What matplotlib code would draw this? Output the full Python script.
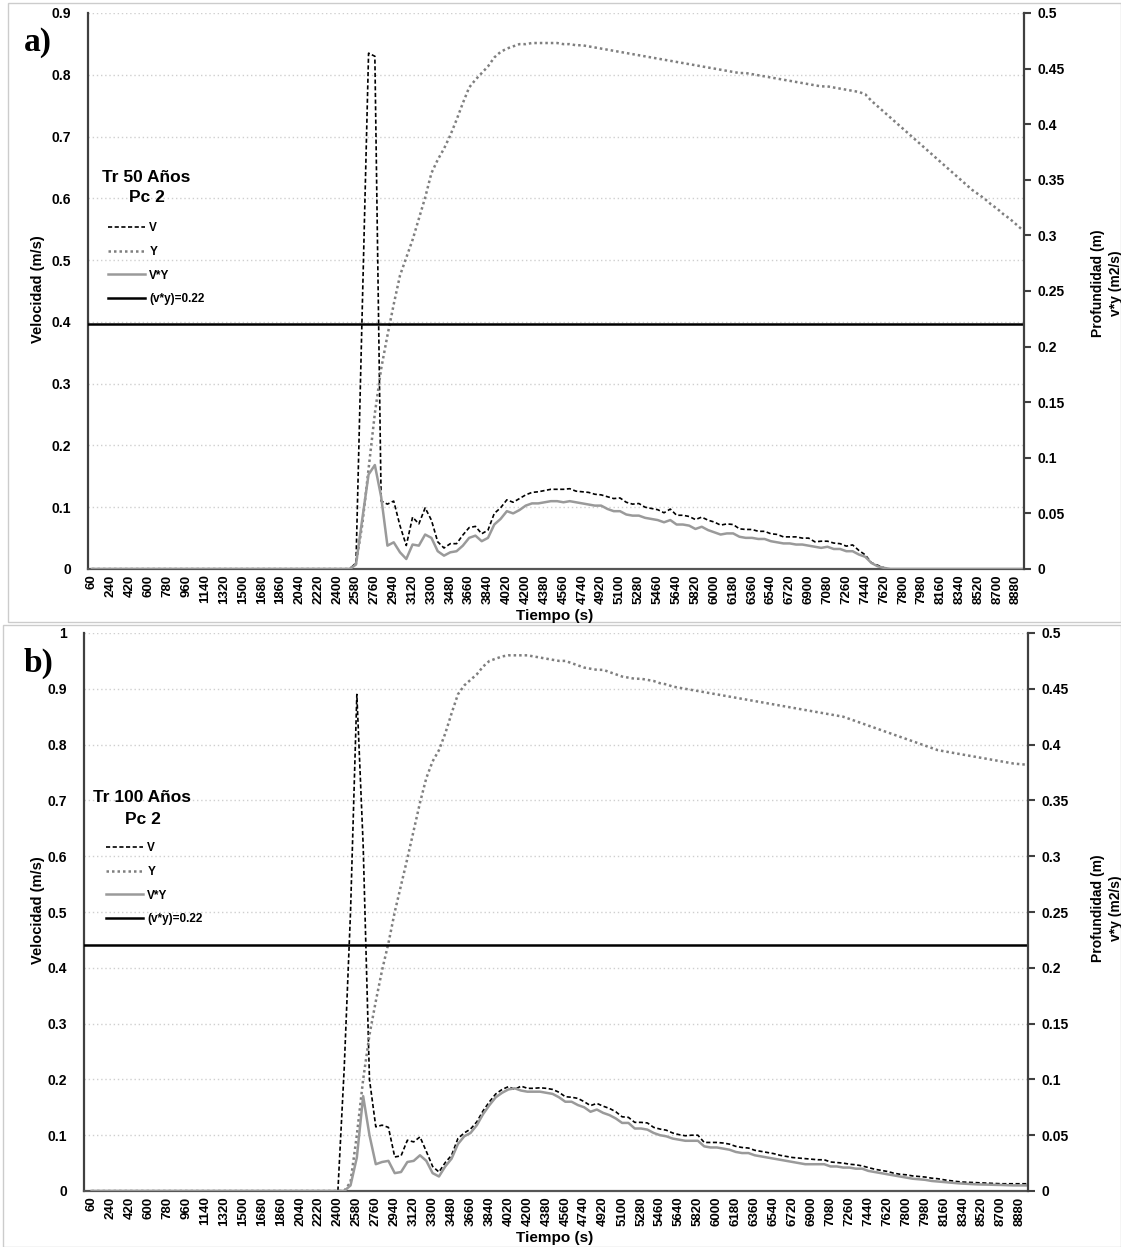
import matplotlib
matplotlib.use("Agg")
import matplotlib.pyplot as plt
from matplotlib.lines import Line2D
from matplotlib.patches import Rectangle
from matplotlib.ticker import MultipleLocator, FuncFormatter

plt.rcParams['font.family'] = ['Liberation Sans', 'DejaVu Sans']
plt.rcParams['font.weight'] = 'bold'

# eje de tiempo (s), un dato cada 60 s
tiempo = list(range(60, 8941, 60))
tick_tiempo = list(range(60, 8881, 180))

# ---- a) Tr 50 años : ceros hasta 2520 s, datos desde 2580 s
v_a = [0.0] * 42 + [
    0.01, 0.42, 0.835, 0.83, 0.11, 0.105, 0.11, 0.07, 0.038, 0.084,
    0.073, 0.099, 0.079, 0.044, 0.034, 0.041, 0.041, 0.055, 0.067, 0.069,
    0.057, 0.063, 0.09, 0.099, 0.112, 0.108, 0.114, 0.12, 0.124, 0.125,
    0.127, 0.129, 0.129, 0.129, 0.13, 0.126, 0.125, 0.124, 0.121, 0.12,
    0.117, 0.114, 0.115, 0.108, 0.105, 0.106, 0.10, 0.098, 0.096, 0.091,
    0.097, 0.087, 0.087, 0.085, 0.08, 0.084, 0.079, 0.076, 0.071, 0.073,
    0.072, 0.065, 0.064, 0.064, 0.061, 0.061, 0.057, 0.056, 0.052, 0.052,
    0.052, 0.05, 0.05, 0.044, 0.045, 0.045, 0.042, 0.041, 0.037, 0.039,
    0.03, 0.023, 0.01, 0.006, 0.002] + [0.0] * 22
vy_a = [0.0] * 42 + [
    0.004, 0.045, 0.085, 0.0935, 0.065, 0.021, 0.024, 0.015, 0.009, 0.022,
    0.021, 0.031, 0.028, 0.016, 0.012, 0.015, 0.016, 0.021, 0.028, 0.03,
    0.025, 0.028, 0.04, 0.045, 0.052, 0.05, 0.053, 0.057, 0.059, 0.059,
    0.06, 0.061, 0.061, 0.06, 0.061, 0.06, 0.059, 0.058, 0.057, 0.057,
    0.054, 0.052, 0.052, 0.049, 0.048, 0.048, 0.046, 0.045, 0.044, 0.042,
    0.044, 0.04, 0.04, 0.039, 0.036, 0.038, 0.035, 0.033, 0.031, 0.032,
    0.032, 0.029, 0.028, 0.028, 0.027, 0.027, 0.025, 0.024, 0.023, 0.023,
    0.022, 0.022, 0.021, 0.02, 0.019, 0.02, 0.018, 0.018, 0.016, 0.016,
    0.013, 0.011, 0.0054, 0.0024, 0.001] + [0.0] * 22
y_a = [0.0] * 42 + [
    0.005, 0.04, 0.09, 0.14, 0.18, 0.21, 0.238, 0.264, 0.28, 0.296,
    0.315, 0.334, 0.356, 0.368, 0.378, 0.39, 0.404, 0.419, 0.433, 0.44,
    0.446, 0.452, 0.46, 0.465, 0.468, 0.47, 0.472, 0.472, 0.473, 0.473,
    0.473, 0.473, 0.473, 0.472, 0.472, 0.471, 0.471, 0.47, 0.469, 0.468,
    0.467, 0.466, 0.465, 0.464, 0.463, 0.462, 0.461, 0.46, 0.459, 0.458,
    0.457, 0.456, 0.455, 0.454, 0.453, 0.452, 0.451, 0.45, 0.449, 0.448,
    0.447, 0.446, 0.446, 0.445, 0.444, 0.443, 0.442, 0.441, 0.44, 0.439,
    0.438, 0.437, 0.436, 0.435, 0.434, 0.434, 0.433, 0.432, 0.431, 0.430,
    0.429, 0.427, 0.421, 0.416, 0.411, 0.406, 0.401, 0.396, 0.391, 0.386,
    0.381, 0.376, 0.371, 0.366, 0.361, 0.356, 0.351, 0.346, 0.341, 0.337,
    0.333, 0.328, 0.324, 0.319, 0.315, 0.31, 0.305]

# ---- b) Tr 100 años : ceros hasta 2400 s, datos desde 2460 s
v_b = [0.0] * 40 + [
    0.22, 0.5, 0.89, 0.62, 0.2, 0.115, 0.118, 0.114, 0.061, 0.063,
    0.091, 0.088, 0.097, 0.071, 0.044, 0.034, 0.051, 0.064, 0.094, 0.104,
    0.111, 0.124, 0.144, 0.16, 0.174, 0.182, 0.187, 0.182, 0.188, 0.184,
    0.184, 0.185, 0.184, 0.182, 0.177, 0.169, 0.168, 0.166, 0.16, 0.153,
    0.157, 0.152, 0.148, 0.142, 0.133, 0.132, 0.123, 0.123, 0.122, 0.114,
    0.111, 0.109, 0.104, 0.101, 0.099, 0.1, 0.1, 0.087, 0.087, 0.087,
    0.086, 0.084, 0.08, 0.078, 0.077, 0.073, 0.071, 0.069, 0.067, 0.064,
    0.062, 0.06, 0.059, 0.058, 0.057, 0.056, 0.056, 0.052, 0.051, 0.05,
    0.048, 0.047, 0.045, 0.042, 0.039, 0.037, 0.035, 0.032, 0.03, 0.029,
    0.027, 0.026, 0.025, 0.023, 0.022, 0.02, 0.0185, 0.017, 0.016, 0.0155,
    0.015, 0.0145, 0.014, 0.0135, 0.013, 0.013, 0.013, 0.013, 0.013]
vy_b = [0.0] * 40 + [
    0.0, 0.005, 0.03, 0.085, 0.05, 0.024, 0.026, 0.027, 0.016, 0.017,
    0.026, 0.027, 0.032, 0.027, 0.016, 0.013, 0.022, 0.029, 0.042, 0.049,
    0.052, 0.059, 0.069, 0.077, 0.084, 0.088, 0.091, 0.092, 0.09, 0.089,
    0.089, 0.089, 0.088, 0.087, 0.084, 0.08, 0.08, 0.077, 0.075, 0.071,
    0.073, 0.07, 0.068, 0.065, 0.061, 0.061, 0.056, 0.056, 0.055, 0.052,
    0.05, 0.049, 0.047, 0.046, 0.045, 0.045, 0.045, 0.04, 0.039, 0.039,
    0.038, 0.037, 0.035, 0.034, 0.034, 0.032, 0.031, 0.03, 0.029, 0.028,
    0.027, 0.026, 0.025, 0.024, 0.024, 0.024, 0.024, 0.022, 0.022, 0.021,
    0.021, 0.02, 0.02, 0.018, 0.017, 0.016, 0.015, 0.014, 0.013, 0.012,
    0.011, 0.0105, 0.01, 0.009, 0.0085, 0.008, 0.0075, 0.007, 0.0066, 0.0063,
    0.006, 0.0058, 0.0057, 0.0055, 0.0054, 0.0052, 0.005, 0.005, 0.005]
y_b = [0.0] * 40 + [
    0.0, 0.008, 0.05, 0.1, 0.14, 0.17, 0.198, 0.222, 0.25, 0.274,
    0.298, 0.323, 0.348, 0.37, 0.385, 0.395, 0.41, 0.428, 0.445, 0.453,
    0.458, 0.463, 0.47, 0.475, 0.477, 0.479, 0.48, 0.48, 0.48, 0.48,
    0.479, 0.478, 0.477, 0.476, 0.475, 0.475, 0.473, 0.471, 0.469, 0.468,
    0.467, 0.467, 0.465, 0.463, 0.461, 0.46, 0.459, 0.459, 0.458, 0.457,
    0.455, 0.454, 0.452, 0.451, 0.45, 0.449, 0.448, 0.447, 0.446, 0.445,
    0.444, 0.443, 0.442, 0.441, 0.44, 0.439, 0.438, 0.437, 0.436, 0.435,
    0.434, 0.433, 0.432, 0.431, 0.43, 0.429, 0.428, 0.427, 0.426, 0.425,
    0.423, 0.421, 0.419, 0.417, 0.415, 0.413, 0.411, 0.409, 0.407, 0.405,
    0.403, 0.401, 0.399, 0.397, 0.395, 0.394, 0.393, 0.392, 0.391, 0.39,
    0.389, 0.388, 0.387, 0.386, 0.385, 0.384, 0.383, 0.3825, 0.382]

umbral = 0.22

W, H = 1121, 1247
fig = plt.figure(figsize=(W / 100, H / 100), dpi=100)

# estilos de linea
st_v = dict(color='black', lw=1.2, linestyle=(0, (2.5, 1.5)))
st_y = dict(color='#7f7f7f', lw=1.8, linestyle=(0, (1, 1.2)))
st_vy = dict(color='#9a9a9a', lw=1.8)
st_u = dict(color='black', lw=1.8)


def fmt(val, pos):
    return '%g' % round(val, 3)


def panel(px, xlim, letra, ymax, v, y, vy, titulo, tit_xy, pc_xy, leg_xy,
          yl_mid, yr_mid):
    # px = (izq, arriba, der, abajo) en pixeles
    l, t, r, b = px
    ax = fig.add_axes([l / W, 1 - b / H, (r - l) / W, (b - t) / H])
    ax2 = ax.twinx()

    ax.plot(tiempo, v, **st_v)
    ax2.plot(tiempo, y, **st_y)
    ax2.plot(tiempo, vy, **st_vy)
    ax2.axhline(umbral, **st_u)

    ax.set_xlim(*xlim)
    ax.set_ylim(0, ymax)
    ax2.set_ylim(0, 0.5)
    ax.yaxis.set_major_locator(MultipleLocator(0.1))
    ax2.yaxis.set_major_locator(MultipleLocator(0.05))
    ax.yaxis.set_major_formatter(FuncFormatter(fmt))
    ax2.yaxis.set_major_formatter(FuncFormatter(fmt))
    ax.set_xticks(tick_tiempo)
    ax.set_xticklabels([str(k) for k in tick_tiempo], rotation=90,
                       fontsize=9.5, fontweight='bold')
    ax.yaxis.grid(True, linestyle=(0, (1, 2)), color='#cfcfcf', lw=1)
    ax.set_axisbelow(True)

    ax.tick_params(axis='y', length=0, pad=12, labelsize=10)
    ax.tick_params(axis='x', length=0, pad=4)
    ax2.tick_params(axis='y', length=5, width=1.5, color='#404040',
                    pad=5, labelsize=10)

    for a in (ax, ax2):
        a.spines['top'].set_visible(False)
    ax2.spines['left'].set_visible(False)
    ax2.spines['bottom'].set_visible(False)
    ax.spines['right'].set_visible(False)
    ax.spines['left'].set_color('#404040')
    ax.spines['left'].set_linewidth(1.6)
    ax.spines['bottom'].set_color('#555555')
    ax.spines['bottom'].set_linewidth(1.6)
    ax2.spines['right'].set_color('#404040')
    ax2.spines['right'].set_linewidth(1.6)

    fig.text(38 / W, 1 - yl_mid / H, 'Velocidad (m/s)', rotation=90,
             ha='center', va='center', fontsize=10.5, fontweight='bold')
    fig.text(1107 / W, 1 - yr_mid / H, 'Profundidad (m)\nv*y (m2/s)',
             rotation=90, ha='center', va='center', fontsize=10,
             fontweight='bold', linespacing=1.4)
    fig.text(555 / W, 1 - (b + 47) / H, 'Tiempo (s)', ha='center',
             va='center', fontsize=11, fontweight='bold')
    fig.text(24 / W, 1 - (t + 30) / H, letra, ha='left', va='center',
             fontsize=24, fontweight='bold', family='Liberation Serif')

    fig.text(tit_xy[0] / W, 1 - tit_xy[1] / H, titulo, ha='left',
             va='center', fontsize=12.5, fontweight='bold')
    fig.text(pc_xy[0] / W, 1 - pc_xy[1] / H, 'Pc 2', ha='center',
             va='center', fontsize=12.5, fontweight='bold')

    handles = [Line2D([], [], **st_v), Line2D([], [], **st_y),
               Line2D([], [], **st_vy), Line2D([], [], **st_u)]
    labels = ['V', 'Y', 'V*Y', '(v*y)=0.22']
    fig.legend(handles, labels, loc='upper left',
               bbox_to_anchor=(leg_xy[0] / W, 1 - leg_xy[1] / H),
               frameon=False, handlelength=3.1,
               handletextpad=0.4, labelspacing=1.0, borderpad=0,
               borderaxespad=0, prop={'weight': 'bold', 'size': 8.5})

    return ax, ax2


panel((88, 13, 1024, 569), (22, 8956), 'a)', 0.9, v_a, y_a, vy_a,
      'Tr 50 Años', (102, 177), (147, 198), (108, 222), 289, 283)
panel((84, 633, 1028, 1191), (-12, 8956), 'b)', 1.0, v_b, y_b, vy_b,
      'Tr 100 Años', (93, 797), (143, 820), (106, 842), 910, 908)

# marcos de cada figura compuesta
fig.add_artist(Rectangle((8 / W, 1 - 622 / H), (W - 8) / W, 619 / H,
                         transform=fig.transFigure, fill=False,
                         ec='#cccccc', lw=1))
fig.add_artist(Rectangle((3 / W, 0), (W - 3) / W, 622 / H,
                         transform=fig.transFigure, fill=False,
                         ec='#cccccc', lw=1))

fig.savefig('out.png', dpi=100)
